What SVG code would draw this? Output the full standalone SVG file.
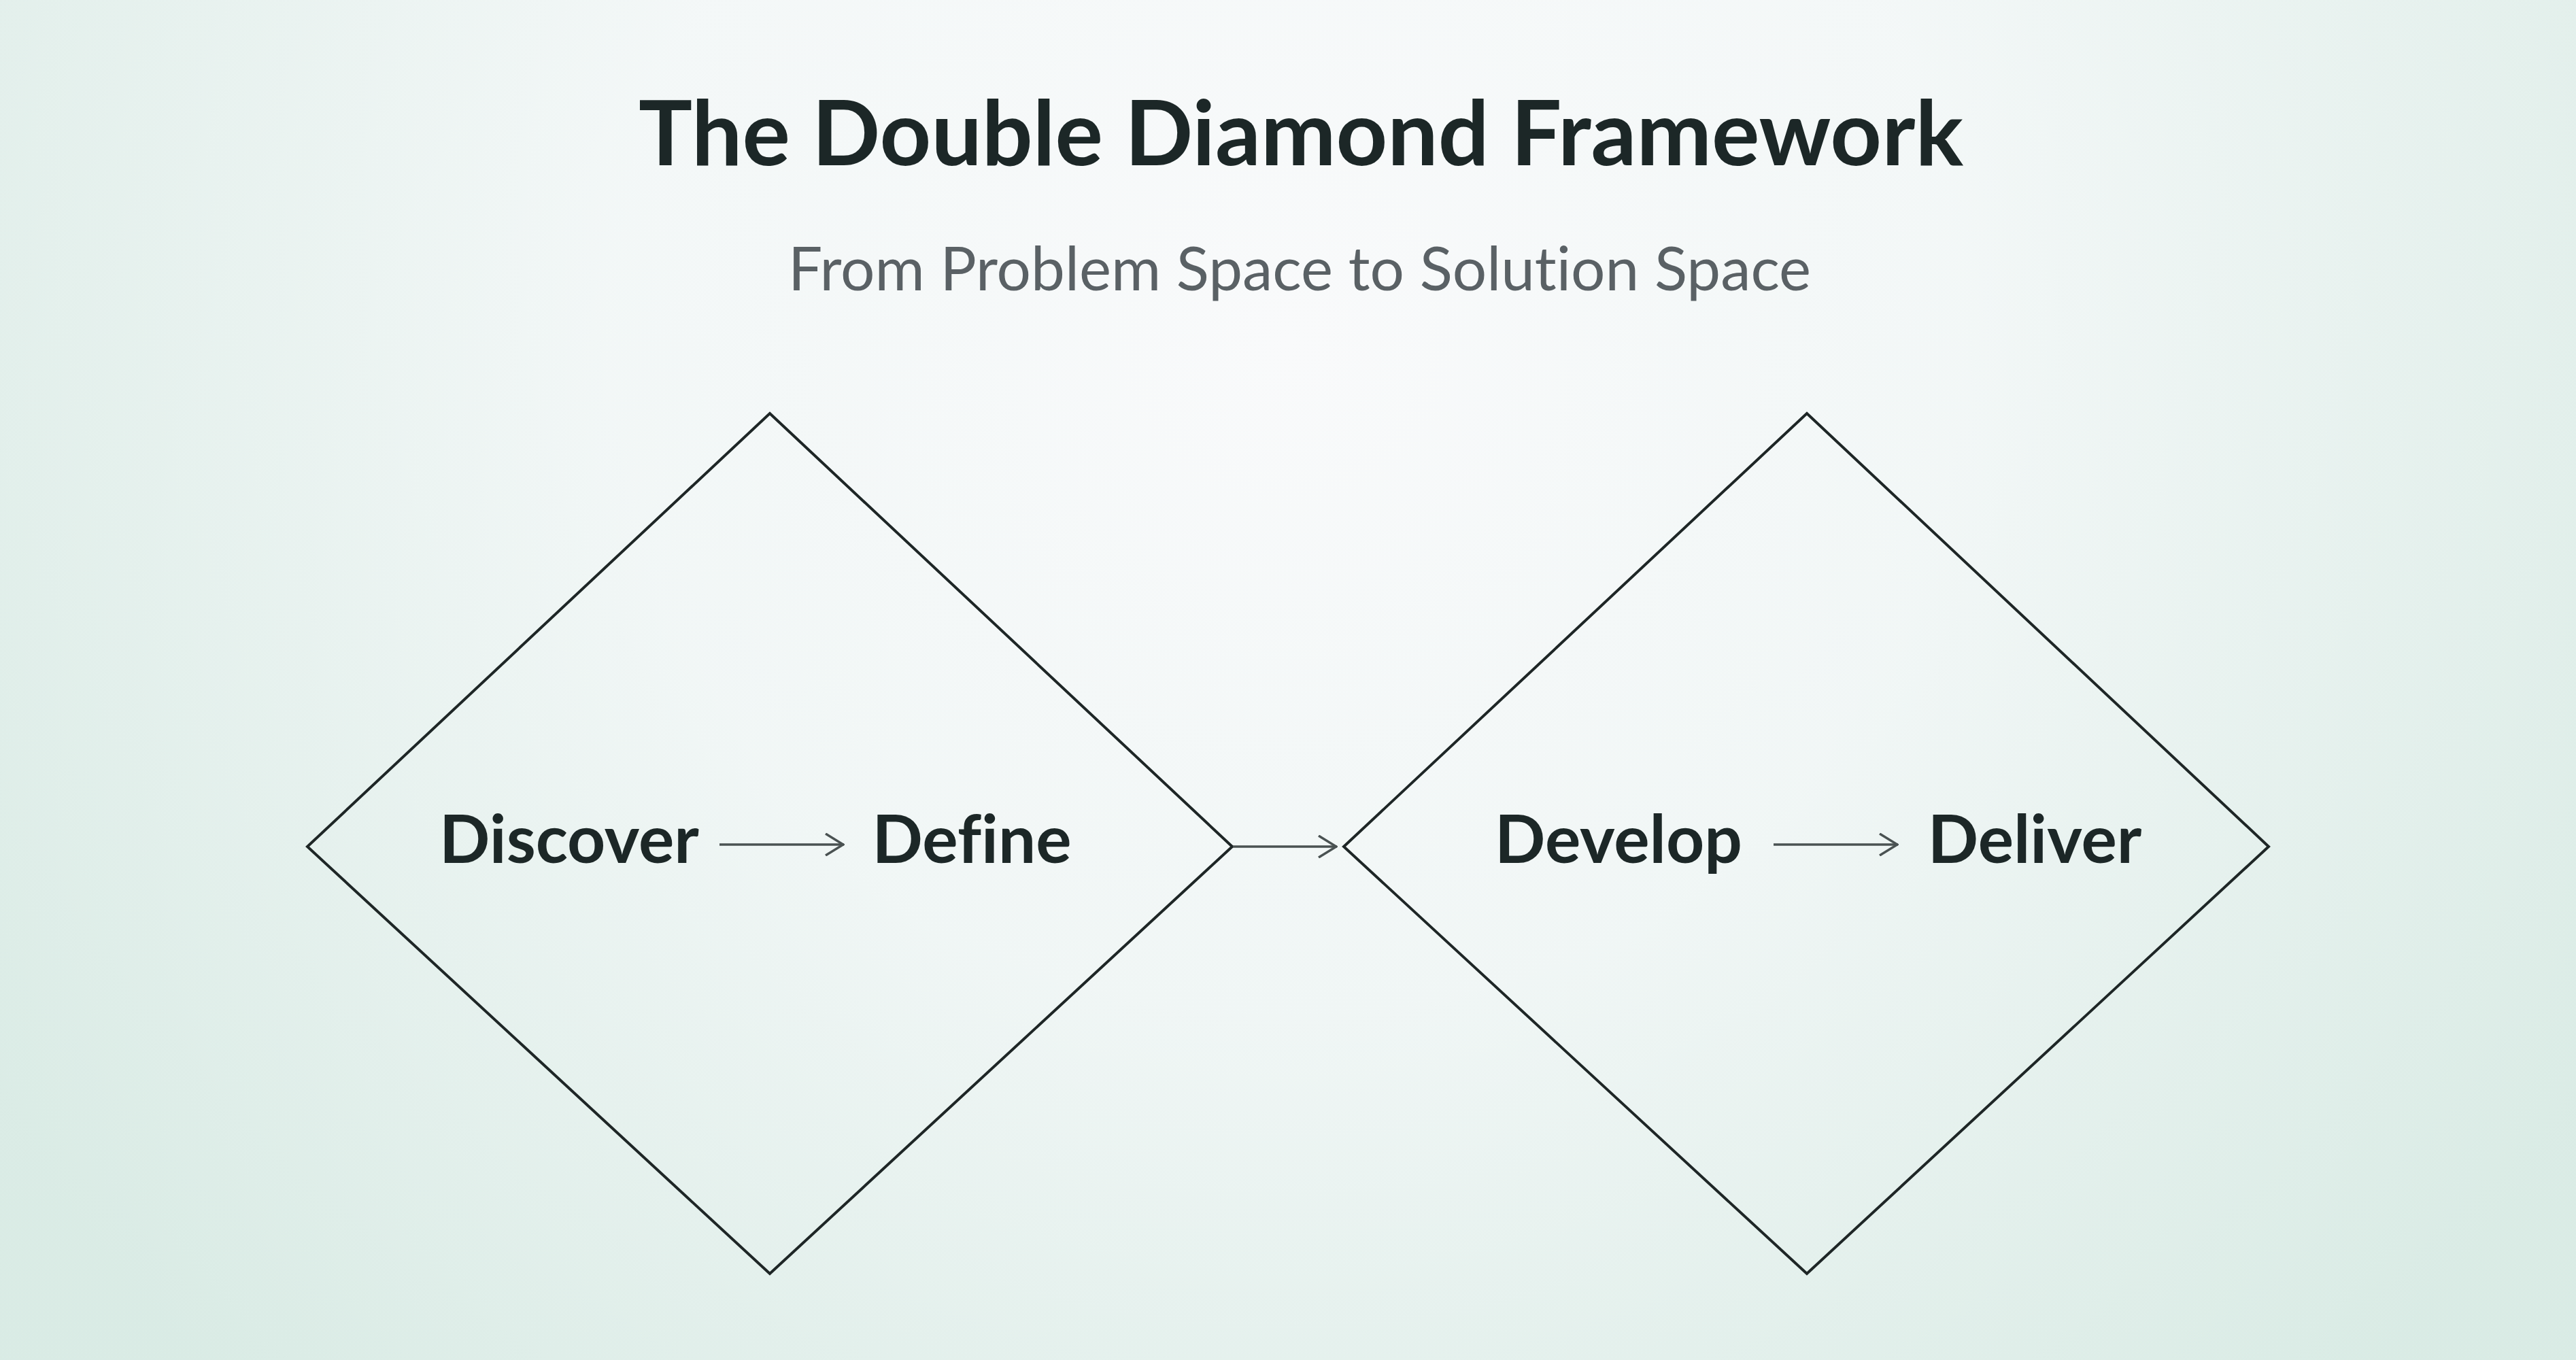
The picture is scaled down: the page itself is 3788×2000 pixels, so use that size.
<svg xmlns="http://www.w3.org/2000/svg" width="3788" height="2000" viewBox="0 0 3788 2000">
<defs>
<linearGradient id="bgLin" x1="0" y1="0" x2="0" y2="1">
<stop offset="0" stop-color="#f3f7f7"/>
<stop offset="1" stop-color="#e3f0ec"/>
</linearGradient>
<radialGradient id="bgGlow" cx="1894" cy="500" r="2200" gradientUnits="userSpaceOnUse">
<stop offset="0" stop-color="#f9fafb" stop-opacity="1"/>
<stop offset="0.45" stop-color="#f4f8f8" stop-opacity="0.7"/>
<stop offset="1" stop-color="#d3e8e0" stop-opacity="0.6"/>
</radialGradient>
<marker id="arr" viewBox="0 0 30 34" refX="29" refY="17" markerWidth="30" markerHeight="34" markerUnits="userSpaceOnUse" orient="auto">
<path d="M2,1 L28,17 L2,33" fill="none" stroke="#4a5252" stroke-width="3.5"/>
</marker>
<style>
text{font-variant-ligatures:none;font-feature-settings:"liga" 0,"dlig" 0}
.title{font-family:Lato,"Open Sans","Liberation Sans",sans-serif;font-weight:700;font-size:132px;fill:#1c2727;text-anchor:middle}
.sub{font-family:Lato,"Open Sans","Liberation Sans",sans-serif;font-weight:400;font-size:89px;fill:#5a6165;text-anchor:middle}
.lbl{font-family:Lato,"Open Sans","Liberation Sans",sans-serif;font-weight:700;font-size:98px;fill:#1c2727;text-anchor:middle}
.dia{fill:none;stroke:#1e2626;stroke-width:4;stroke-linejoin:miter}
.con{fill:none;stroke:#4a5252;stroke-width:3.5;marker-end:url(#arr)}
</style>
</defs>
<rect x="0" y="0" width="3788" height="2000" fill="url(#bgLin)"/>
<rect x="0" y="0" width="3788" height="2000" fill="url(#bgGlow)"/>
<g id="header">
<text class="title" x="1913" y="243">The Double Diamond Framework</text>
<text class="sub" x="1911" y="427">From Problem Space to Solution Space</text>
</g>
<g id="diamond-problem">
<polygon class="dia" points="1132,608 1812,1245 1132,1873 452,1245"/>
<text class="lbl" x="837" y="1269">Discover</text>
<text class="lbl" x="1429" y="1269">Define</text>
</g>
<g id="diamond-solution">
<polygon class="dia" points="2657,608 3336,1245 2657,1873 1976,1245"/>
<text class="lbl" x="2380" y="1269">Develop</text>
<text class="lbl" x="2992" y="1269">Deliver</text>
</g>
<g id="connectors">
<line class="con" x1="1058" y1="1242" x2="1241" y2="1242"/>
<line class="con" x1="1813" y1="1245" x2="1966" y2="1245"/>
<line class="con" x1="2608" y1="1242" x2="2791" y2="1242"/>
</g>
</svg>
